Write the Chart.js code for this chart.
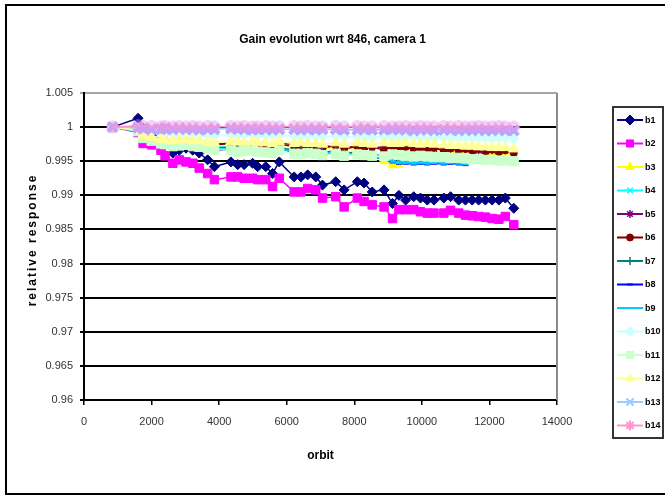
<!DOCTYPE html>
<html>
<head>
<meta charset="utf-8">
<title>Gain evolution wrt 846, camera 1</title>
<script src="https://cdn.jsdelivr.net/npm/chart.js@4.4.0/dist/chart.umd.min.js"></script>
<style>
  html, body { margin: 0; padding: 0; background: #fff; }
  canvas { display: block; }
</style>
</head>
<body>
<canvas id="graficoGanancia" width="665" height="496"></canvas>
<script>
// Órbitas (eje x)
const orbitas = [
  846, 1600, 1750, 2000, 2280, 2400, 2630, 2820, 3020, 3220,
  3410, 3660, 3860, 4350, 4550, 4740, 4990, 5140, 5380, 5580,
  5780, 6220, 6420, 6620, 6860, 7060, 7450, 7700, 8090, 8290,
  8530, 8880, 9130, 9320, 9520, 9760, 9960, 10160, 10360, 10650,
  10850, 11090, 11290, 11490, 11680, 11880, 12080, 12280, 12470, 12720
];

// Respuesta relativa por banda
const b1 = [
  1.0000, 1.0013, 0.9998, 0.9988, 0.9980, 0.9976, 0.9962, 0.9966, 0.9969, 0.9966,
  0.9962, 0.9952, 0.9942, 0.9949, 0.9945, 0.9945, 0.9947, 0.9942, 0.9942, 0.9932,
  0.9949, 0.9927, 0.9927, 0.9930, 0.9927, 0.9915, 0.9920, 0.9908, 0.9920, 0.9918,
  0.9905, 0.9908, 0.9888, 0.9900, 0.9893, 0.9898, 0.9896, 0.9893, 0.9893, 0.9896,
  0.9898, 0.9893, 0.9893, 0.9893, 0.9893, 0.9893, 0.9893, 0.9893, 0.9896, 0.9881
];
const b2 = [
  1.0000, 0.9992, 0.9976, 0.9974, 0.9966, 0.9958, 0.9947, 0.9952, 0.9949, 0.9947,
  0.9940, 0.9932, 0.9923, 0.9927, 0.9927, 0.9925, 0.9925, 0.9923, 0.9923, 0.9913,
  0.9925, 0.9905, 0.9905, 0.9910, 0.9908, 0.9896, 0.9898, 0.9883, 0.9896, 0.9891,
  0.9886, 0.9883, 0.9866, 0.9879, 0.9879, 0.9879, 0.9876, 0.9874, 0.9874, 0.9874,
  0.9878, 0.9874, 0.9871, 0.9870, 0.9869, 0.9868, 0.9866, 0.9865, 0.9869, 0.9857
];
const b3 = [
  1.0000, 0.9993, 0.9986, 0.9982, 0.9979, 0.9978, 0.9976, 0.9977, 0.9978, 0.9976,
  0.9975, 0.9974, 0.9973, 0.9975, 0.9974, 0.9973, 0.9974, 0.9972, 0.9972, 0.9971,
  0.9974, 0.9971, 0.9970, 0.9971, 0.9970, 0.9969, 0.9970, 0.9968, 0.9969, 0.9968,
  0.9964, 0.9950, 0.9944, 0.9945, 0.9952, 0.9966, 0.9967, 0.9968, 0.9966, 0.9967,
  0.9966, 0.9965, 0.9966, 0.9965, 0.9964, 0.9964, 0.9963, 0.9963, 0.9964, 0.9962
];
const b4 = [
  1.0000, 0.9995, 0.9988, 0.9984, 0.9980, 0.9978, 0.9976, 0.9976, 0.9977, 0.9975,
  0.9974, 0.9977, 0.9972, 0.9970, 0.9969, 0.9970, 0.9968, 0.9967, 0.9968, 0.9966,
  0.9969, 0.9965, 0.9964, 0.9965, 0.9963, 0.9962, 0.9964, 0.9961, 0.9962, 0.9961,
  0.9959, 0.9957, 0.9955, 0.9952, 0.9950, 0.9949, 0.9950, 0.9949, 0.9951, 0.9950,
  0.9949, 0.9950, 0.9949, 0.9951, 0.9950, 0.9949, 0.9950, 0.9949, 0.9950, 0.9948
];
const b5 = [
  1.0000, 0.9996, 0.9990, 0.9985, 0.9982, 0.9980, 0.9978, 0.9979, 0.9980, 0.9978,
  0.9977, 0.9976, 0.9975, 0.9977, 0.9976, 0.9975, 0.9976, 0.9974, 0.9975, 0.9973,
  0.9977, 0.9974, 0.9973, 0.9974, 0.9972, 0.9971, 0.9973, 0.9970, 0.9972, 0.9971,
  0.9970, 0.9971, 0.9969, 0.9970, 0.9971, 0.9970, 0.9969, 0.9970, 0.9968, 0.9969,
  0.9968, 0.9967, 0.9968, 0.9967, 0.9966, 0.9967, 0.9966, 0.9965, 0.9966, 0.9964
];
const b6 = [
  1.0000, 0.9995, 0.9988, 0.9983, 0.9979, 0.9976, 0.9978, 0.9974, 0.9977, 0.9973,
  0.9976, 0.9972, 0.9974, 0.9976, 0.9972, 0.9975, 0.9971, 0.9974, 0.9970, 0.9973,
  0.9976, 0.9971, 0.9974, 0.9970, 0.9973, 0.9969, 0.9973, 0.9968, 0.9972, 0.9968,
  0.9971, 0.9966, 0.9972, 0.9967, 0.9971, 0.9966, 0.9970, 0.9966, 0.9970, 0.9965,
  0.9969, 0.9965, 0.9968, 0.9964, 0.9968, 0.9963, 0.9967, 0.9963, 0.9966, 0.9962
];
const b7 = [
  1.0000, 0.9994, 0.9986, 0.9981, 0.9977, 0.9975, 0.9973, 0.9974, 0.9975, 0.9973,
  0.9972, 0.9971, 0.9969, 0.9971, 0.9970, 0.9969, 0.9970, 0.9968, 0.9968, 0.9966,
  0.9970, 0.9966, 0.9965, 0.9966, 0.9964, 0.9963, 0.9965, 0.9962, 0.9963, 0.9962,
  0.9960, 0.9958, 0.9956, 0.9955, 0.9954, 0.9953, 0.9954, 0.9953, 0.9955, 0.9954,
  0.9953, 0.9953, 0.9952, 0.9953, 0.9952, 0.9951, 0.9952, 0.9951, 0.9952, 0.9950
];
const b8 = [
  1.0000, 0.9993, 0.9985, 0.9980, 0.9976, 0.9974, 0.9972, 0.9973, 0.9974, 0.9972,
  0.9970, 0.9966, 0.9965, 0.9968, 0.9967, 0.9966, 0.9967, 0.9965, 0.9965, 0.9963,
  0.9967, 0.9963, 0.9962, 0.9963, 0.9961, 0.9960, 0.9962, 0.9959, 0.9960, 0.9959,
  0.9956, 0.9953, 0.9949, 0.9947, 0.9947, 0.9946, 0.9947, 0.9946, 0.9947, 0.9946,
  0.9947, 0.9946, 0.9945, 0.9951, 0.9952, 0.9951, 0.9952, 0.9951, 0.9952, 0.9950
];
const b9 = [
  1.0000, 0.9994, 0.9986, 0.9981, 0.9977, 0.9975, 0.9973, 0.9974, 0.9975, 0.9973,
  0.9971, 0.9967, 0.9966, 0.9969, 0.9968, 0.9967, 0.9968, 0.9966, 0.9966, 0.9964,
  0.9968, 0.9964, 0.9963, 0.9964, 0.9962, 0.9961, 0.9963, 0.9960, 0.9961, 0.9960,
  0.9957, 0.9954, 0.9950, 0.9948, 0.9948, 0.9947, 0.9948, 0.9947, 0.9948, 0.9947,
  0.9948, 0.9947, 0.9946, 0.9950, 0.9951, 0.9950, 0.9951, 0.9950, 0.9951, 0.9949
];
const b10 = [
  1.0000, 0.9999, 0.9994, 0.9992, 0.9990, 0.9990, 0.9989, 0.9990, 0.9990, 0.9989,
  0.9989, 0.9988, 0.9988, 0.9989, 0.9988, 0.9988, 0.9989, 0.9988, 0.9987, 0.9987,
  0.9988, 0.9987, 0.9987, 0.9987, 0.9986, 0.9986, 0.9987, 0.9986, 0.9986, 0.9986,
  0.9985, 0.9986, 0.9985, 0.9985, 0.9986, 0.9985, 0.9985, 0.9985, 0.9984, 0.9985,
  0.9984, 0.9984, 0.9985, 0.9984, 0.9984, 0.9984, 0.9983, 0.9984, 0.9984, 0.9983
];
const b11 = [
  1.0000, 0.9994, 0.9984, 0.9980, 0.9976, 0.9975, 0.9972, 0.9973, 0.9974, 0.9972,
  0.9971, 0.9969, 0.9967, 0.9966, 0.9964, 0.9965, 0.9966, 0.9964, 0.9963, 0.9962,
  0.9966, 0.9961, 0.9960, 0.9962, 0.9961, 0.9959, 0.9961, 0.9958, 0.9960, 0.9959,
  0.9958, 0.9957, 0.9960, 0.9959, 0.9958, 0.9957, 0.9958, 0.9957, 0.9956, 0.9956,
  0.9955, 0.9955, 0.9954, 0.9953, 0.9953, 0.9952, 0.9952, 0.9951, 0.9951, 0.9950
];
const b12 = [
  1.0000, 0.9996, 0.9988, 0.9985, 0.9982, 0.9981, 0.9980, 0.9981, 0.9982, 0.9980,
  0.9980, 0.9978, 0.9977, 0.9979, 0.9978, 0.9977, 0.9979, 0.9977, 0.9977, 0.9976,
  0.9979, 0.9976, 0.9977, 0.9976, 0.9976, 0.9975, 0.9977, 0.9975, 0.9977, 0.9976,
  0.9975, 0.9977, 0.9976, 0.9976, 0.9977, 0.9976, 0.9975, 0.9976, 0.9975, 0.9974,
  0.9973, 0.9973, 0.9972, 0.9972, 0.9971, 0.9971, 0.9970, 0.9970, 0.9970, 0.9968
];
const b13 = [
  1.0000, 0.9999, 0.9998, 0.9997, 0.9997, 0.9998, 0.9997, 0.9998, 0.9997, 0.9997,
  0.9996, 0.9997, 0.9997, 0.9998, 0.9997, 0.9997, 0.9996, 0.9997, 0.9997, 0.9996,
  0.9997, 0.9997, 0.9996, 0.9997, 0.9996, 0.9997, 0.9997, 0.9996, 0.9996, 0.9997,
  0.9996, 0.9996, 0.9997, 0.9996, 0.9996, 0.9995, 0.9996, 0.9996, 0.9995, 0.9996,
  0.9996, 0.9995, 0.9996, 0.9995, 0.9996, 0.9995, 0.9995, 0.9996, 0.9995, 0.9995
];
const b14 = [
  1.0000, 1.0002, 1.0001, 1.0001, 1.0000, 1.0001, 1.0000, 1.0001, 1.0000, 1.0001,
  1.0000, 1.0001, 1.0000, 1.0001, 1.0000, 1.0001, 1.0000, 1.0000, 1.0001, 1.0000,
  1.0000, 1.0001, 1.0000, 1.0001, 1.0000, 1.0000, 1.0001, 1.0000, 1.0001, 1.0000,
  1.0000, 1.0001, 1.0000, 1.0000, 1.0001, 1.0000, 1.0001, 1.0000, 1.0000, 1.0001,
  1.0000, 1.0001, 1.0000, 1.0000, 1.0001, 1.0000, 1.0000, 1.0001, 1.0000, 1.0000
];

const series = [b1, b2, b3, b4, b5, b6, b7, b8, b9, b10, b11, b12, b13, b14];
const nombres = ['b1', 'b2', 'b3', 'b4', 'b5', 'b6', 'b7', 'b8', 'b9', 'b10', 'b11', 'b12', 'b13', 'b14'];

// Estilos de cada serie (paleta tipo Excel)
const colores = [
  '#000080', '#FF00FF', '#FFFF00', '#00FFFF', '#800080', '#800000', '#008080',
  '#0000FF', '#00CCFF', '#CCFFFF', '#CCFFCC', '#FFFF99', '#99CCFF', '#FF99CC'
];
// colores de marcador en el gráfico (b13/b14 se solapan y dan el tono lila)
const coloresMarcador = colores.map((c, i) => i === 12 ? '#b3a6ff' : (i === 13 ? 'rgba(230,150,230,0.45)' : c));
const formas = [
  'rectRot', 'rect', 'triangle', 'crossRot', 'star', 'circle', 'cross',
  'line', 'line', 'rectRot', 'rect', 'triangle', 'crossRot', 'star'
];
const radios = [5, 6, 5, 4, 4, 3.5, 4, 3, 3, 5, 6.5, 6, 6.5, 6.5];
const grosores = [1, 1, 1, 1.5, 1.5, 1, 1.5, 3, 3, 1, 1, 1, 4, 4];

const fuente = "'Liberation Sans', Arial, sans-serif";
Chart.defaults.font.family = fuente;

// Marco, borde derecho, título del eje y y leyenda
const marcoPlugin = {
  id: 'marco',
  afterDraw(chart) {
    const ctx = chart.ctx;
    const area = chart.chartArea;
    ctx.save();
    ctx.strokeStyle = '#8c8c8c';
    ctx.lineWidth = 2;
    ctx.beginPath();
    ctx.moveTo(Math.round(area.right), area.top);
    ctx.lineTo(Math.round(area.right), area.bottom);
    ctx.stroke();

    ctx.strokeStyle = '#000';
    ctx.strokeRect(6, 5, 700, 489);

    ctx.translate(33, 240);
    ctx.rotate(-Math.PI / 2);
    ctx.font = 'bold 12px ' + fuente;
    ctx.letterSpacing = '2px';
    ctx.textAlign = 'center';
    ctx.textBaseline = 'middle';
    ctx.fillStyle = '#000';
    ctx.fillText('relative response', 0, 0);
    ctx.restore();

    // leyenda
    ctx.save();
    ctx.strokeStyle = '#333';
    ctx.lineWidth = 2;
    ctx.strokeRect(613, 107, 50, 331);
    ctx.font = 'bold 9px ' + fuente;
    ctx.textBaseline = 'middle';
    ctx.textAlign = 'left';
    nombres.forEach((nombre, i) => {
      const y = 120 + i * 23.5;
      ctx.strokeStyle = colores[i];
      ctx.fillStyle = colores[i];
      ctx.lineWidth = 2;
      ctx.beginPath();
      ctx.moveTo(617, y);
      ctx.lineTo(643, y);
      ctx.stroke();
      if (Chart.helpers && Chart.helpers.drawPoint) {
        ctx.lineWidth = Math.min(grosores[i], 2);
        Chart.helpers.drawPoint(ctx, {
          pointStyle: formas[i], rotation: 0,
          radius: Math.min(radios[i], 5), borderWidth: Math.min(grosores[i], 2)
        }, 630, y);
      }
      ctx.fillStyle = '#000';
      ctx.fillText(nombre, 645, y + 0.5);
    });
    ctx.restore();
  }
};

const ctx = document.getElementById('graficoGanancia').getContext('2d');

const grafico = new Chart(ctx, {
  type: 'line',
  data: {
    datasets: series.map((datos, i) => ({
      label: nombres[i],
      data: orbitas.map((o, k) => ({ x: o, y: datos[k] })),
      xAxisID: 'x',
      yAxisID: 'y',
      borderColor: colores[i],
      backgroundColor: colores[i],
      pointBackgroundColor: coloresMarcador[i],
      pointBorderColor: coloresMarcador[i],
      pointStyle: formas[i],
      pointRadius: radios[i],
      pointBorderWidth: grosores[i],
      borderWidth: 1.5,
      tension: 0,
      fill: false,
      order: 13 - i
    }))
  },
  options: {
    responsive: false,
    animation: false,
    layout: { padding: 0 },
    plugins: {
      legend: { display: false },
      tooltip: { enabled: false },
      title: {
        display: true,
        text: 'Gain evolution wrt 846, camera 1',
        color: '#000',
        font: { size: 12, weight: 'bold' },
        padding: { top: 32.8, bottom: 45.8 }
      }
    },
    scales: {
      x: {
        type: 'linear',
        position: 'bottom',
        min: 0,
        max: 14000,
        afterFit: escala => { escala.height = 96; },
        ticks: {
          stepSize: 2000,
          padding: 10,
          maxRotation: 0,
          color: '#333',
          font: { size: 11 },
          callback: v => String(v)
        },
        grid: { drawOnChartArea: false, drawTicks: true, tickLength: 5, color: '#000', lineWidth: 1.5 },
        border: { color: '#000', width: 2 },
        title: {
          display: true,
          text: 'orbit',
          color: '#000',
          font: { size: 12, weight: 'bold' },
          padding: { top: 0, bottom: 32.8 }
        }
      },
      y: {
        type: 'linear',
        position: 'left',
        min: 0.96,
        max: 1.005,
        afterFit: escala => { escala.width = 84; },
        ticks: {
          stepSize: 0.005,
          padding: 7,
          color: '#333',
          font: { size: 11 },
          callback: v => String(parseFloat(Number(v).toFixed(3)))
        },
        grid: {
          color: c => (c.tick && Math.abs(c.tick.value - 1.005) < 1e-6) ? '#a6a6a6' : '#000',
          lineWidth: 2,
          tickLength: 4
        },
        border: { color: '#000', width: 2 }
      },
      espacio: {
        type: 'linear',
        position: 'right',
        grid: { display: false },
        ticks: { display: false },
        border: { display: false },
        afterFit: escala => { escala.width = 108; }
      }
    }
  },
  plugins: [marcoPlugin]
});
</script>
</body>
</html>
